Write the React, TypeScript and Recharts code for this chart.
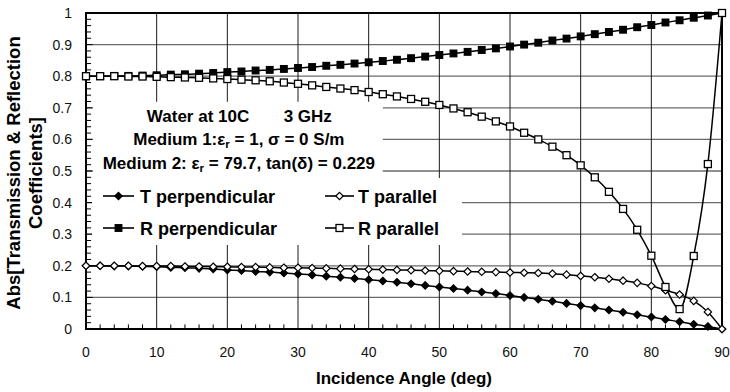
import React from 'react';
import {
  LineChart,
  Line,
  XAxis,
  YAxis,
  CartesianGrid,
  ReferenceArea,
  ReferenceLine,
  Legend,
} from 'recharts';

const FONT = "'Liberation Sans', Arial, Helvetica, sans-serif";

// Incidence angle (deg)
const angles = [
  0, 2, 4, 6, 8, 10, 12, 14, 16, 18, 20, 22, 24, 26, 28, 30, 32, 34, 36, 38, 40, 42, 44,
  46, 48, 50, 52, 54, 56, 58, 60, 62, 64, 66, 68, 70, 72, 74, 76, 78, 80, 82, 84, 86, 88, 90,
];

const tPerpendicular = [
  0.2, 0.2, 0.199, 0.199, 0.198, 0.197, 0.195, 0.194, 0.192, 0.19, 0.187, 0.185, 0.182, 0.18,
  0.177, 0.174, 0.171, 0.167, 0.164, 0.16, 0.156, 0.152, 0.148, 0.143, 0.138, 0.133, 0.128,
  0.123, 0.117, 0.112, 0.106, 0.1, 0.094, 0.088, 0.081, 0.074, 0.067, 0.06, 0.053, 0.045,
  0.038, 0.03, 0.023, 0.015, 0.008, 0.0,
];

const tParallel = [
  0.2, 0.2, 0.2, 0.2, 0.199, 0.199, 0.199, 0.198, 0.198, 0.197, 0.197, 0.196, 0.196, 0.195,
  0.194, 0.194, 0.193, 0.192, 0.191, 0.19, 0.189, 0.188, 0.187, 0.186, 0.185, 0.184, 0.183,
  0.182, 0.181, 0.18, 0.179, 0.178, 0.177, 0.175, 0.172, 0.168, 0.164, 0.159, 0.153, 0.146,
  0.136, 0.123, 0.109, 0.089, 0.054, 0.0,
];

const rPerpendicular = [
  0.8, 0.8, 0.801, 0.801, 0.802, 0.803, 0.805, 0.806, 0.808, 0.81, 0.813, 0.815, 0.818, 0.82,
  0.823, 0.826, 0.829, 0.833, 0.836, 0.84, 0.844, 0.848, 0.852, 0.857, 0.862, 0.867, 0.872,
  0.877, 0.883, 0.888, 0.894, 0.9, 0.906, 0.913, 0.919, 0.926, 0.933, 0.94, 0.947, 0.955,
  0.962, 0.97, 0.977, 0.985, 0.992, 1.0,
];

const rParallel = [
  0.8, 0.8, 0.8, 0.799, 0.799, 0.798, 0.797, 0.796, 0.795, 0.793, 0.791, 0.789, 0.787, 0.784,
  0.78, 0.776, 0.771, 0.766, 0.761, 0.756, 0.75, 0.743, 0.736, 0.728, 0.719, 0.709, 0.698,
  0.686, 0.672, 0.657, 0.641, 0.621, 0.6, 0.577, 0.55, 0.518, 0.48, 0.434, 0.38, 0.314, 0.232,
  0.133, 0.063, 0.231, 0.522, 1.0,
];

const seriesNames = ['T perpendicular', 'T parallel', 'R perpendicular', 'R parallel'];

const xMajorTicks = [0, 10, 20, 30, 40, 50, 60, 70, 80, 90];
const yMajorTicks = [0, 0.1, 0.2, 0.3, 0.4, 0.5, 0.6, 0.7, 0.8, 0.9, 1];
const xGridValues = [10, 20, 30, 40, 50, 60, 70, 80, 90];
const yGridValues = [0.1, 0.2, 0.3, 0.4, 0.5, 0.6, 0.7, 0.8, 0.9, 1];
const xMinorTicks = angles.filter((a) => a % 10 !== 0);
const yMinorTicks = Array.from({ length: 51 }, (_, i) => i)
  .filter((i) => i % 5 !== 0)
  .map((i) => Math.round(i * 2) / 100);

const data = angles.map((a, i) => ({
  angle: a,
  tPerp: tPerpendicular[i],
  tPar: tParallel[i],
  rPerp: rPerpendicular[i],
  rPar: rParallel[i],
}));

type Kind = 'diamondFilled' | 'diamondOpen' | 'squareFilled' | 'squareOpen';

const Marker = ({ cx, cy, kind }: { cx: number; cy: number; kind: Kind }) => {
  if (cx == null || cy == null || isNaN(cx) || isNaN(cy)) return null;
  if (kind === 'diamondFilled' || kind === 'diamondOpen') {
    const r = 3.7;
    return (
      <polygon
        points={`${cx},${cy - r} ${cx + r},${cy} ${cx},${cy + r} ${cx - r},${cy}`}
        fill={kind === 'diamondFilled' ? '#000' : '#fff'}
        stroke="#000"
        strokeWidth={1.2}
      />
    );
  }
  const s = kind === 'squareFilled' ? 6.6 : 7;
  return (
    <rect
      x={cx - s / 2}
      y={cy - s / 2}
      width={s}
      height={s}
      fill={kind === 'squareFilled' ? '#000' : '#fff'}
      stroke="#000"
      strokeWidth={1.3}
    />
  );
};

const kindByKey: Record<string, Kind> = {
  tPerp: 'diamondFilled',
  tPar: 'diamondOpen',
  rPerp: 'squareFilled',
  rPar: 'squareOpen',
};

const XTick = (props: any) => {
  const { x, y, payload } = props;
  return (
    <text x={x} y={y + 28} textAnchor="middle" fontSize={14} fontFamily={FONT} fill="#111">
      {payload.value}
    </text>
  );
};

const YTick = (props: any) => {
  const { x, y, payload } = props;
  const v = payload.value;
  const label = v === 0 ? '0' : v === 1 ? '1' : Number(v).toFixed(1);
  return (
    <text x={x - 14} y={y} dy="0.36em" textAnchor="end" fontSize={14} fontFamily={FONT} fill="#111">
      {label}
    </text>
  );
};

const XTitle = (props: any) => {
  const vb = props.viewBox || { x: 0, y: 0, width: 0 };
  return (
    <text
      x={vb.x + vb.width / 2}
      y={vb.y + 55}
      textAnchor="middle"
      fontSize={17}
      fontWeight="bold"
      fontFamily={FONT}
      fill="#000"
    >
      Incidence Angle (deg)
    </text>
  );
};

const YTitle = (props: any) => {
  const vb = props.viewBox || { x: 0, y: 0, height: 0 };
  const cy = vb.y + vb.height / 2 + 2;
  const x1 = vb.x + 19.5;
  const x2 = vb.x + 41.5;
  return (
    <g fontSize={18.5} fontWeight="bold" fontFamily={FONT} fill="#000">
      <text x={x1} y={cy} textAnchor="middle" transform={`rotate(-90, ${x1}, ${cy})`}>
        Abs[Transmission &amp; Reflection
      </text>
      <text x={x2} y={cy} textAnchor="middle" transform={`rotate(-90, ${x2}, ${cy})`}>
        Coefficients]
      </text>
    </g>
  );
};

const AnnotationLabel = (props: any) => {
  const vb = props.viewBox || { x: 0, y: 0 };
  const x0 = vb.x;
  const y0 = vb.y;
  const cx = x0 + 146.5;
  return (
    <g fontSize={17} fontWeight="bold" fontFamily={FONT} fill="#000">
      <text x={x0 + 54.5} y={y0 + 20}>Water at 10C</text>
      <text x={x0 + 239.5} y={y0 + 20} textAnchor="end">3 GHz</text>
      <text x={cx} y={y0 + 43.5} textAnchor="middle">
        Medium 1:ε<tspan dy={3} fontSize={11.5}>r</tspan>
        <tspan dy={-3}> = 1, σ = 0 S/m</tspan>
      </text>
      <text x={cx} y={y0 + 67.5} textAnchor="middle">
        Medium 2: ε<tspan dy={3} fontSize={11.5}>r</tspan>
        <tspan dy={-3}> = 79.7, tan(δ) = 0.229</tspan>
      </text>
    </g>
  );
};

// legend slot layout per series (position only)
const legendSlots: Record<string, { x1: number; x2: number; tx: number; y: number }> = {
  tPerp: { x1: 11, x2: 42, tx: 48, y: 18 },
  tPar: { x1: 233, x2: 262, tx: 266, y: 18 },
  rPerp: { x1: 11, x2: 42, tx: 48, y: 50 },
  rPar: { x1: 233, x2: 262, tx: 266, y: 50 },
};

const LegendContent = (props: any) => {
  const payload: any[] = props.payload || [];
  return (
    <svg width={370} height={67} style={{ display: 'block' }}>
      <rect x={0} y={0} width={370} height={67} fill="#fff" />
      {payload.map((entry) => {
        const key = String(entry.dataKey);
        const s = legendSlots[key];
        if (!s) return null;
        return (
          <g key={key}>
            <line x1={s.x1} x2={s.x2} y1={s.y} y2={s.y} stroke="#000" strokeWidth={1.6} />
            <Marker cx={(s.x1 + s.x2) / 2} cy={s.y} kind={kindByKey[key]} />
            <text x={s.tx} y={s.y + 6.5} fontSize={18} fontWeight="bold" fontFamily={FONT} fill="#000">
              {entry.value}
            </text>
          </g>
        );
      })}
    </svg>
  );
};

const makeDot = (kind: Kind) => (p: any) => (
  <Marker key={`${kind}-${p.index}`} cx={p.cx} cy={p.cy} kind={kind} />
);

export default function App() {
  return (
    <div style={{ position: 'absolute', left: 0, top: 0, width: 730, height: 392, background: '#fff' }}>
      <LineChart
        width={730}
        height={392}
        data={data}
        margin={{ top: 13, right: 8, bottom: 0, left: 0 }}
      >
        <CartesianGrid
          horizontal={true}
          vertical={false}
          horizontalValues={yGridValues}
          stroke="#6a6a6a"
          strokeWidth={1.3}
        />
        <CartesianGrid
          horizontal={false}
          vertical={true}
          verticalValues={xGridValues}
          stroke="#1a1a1a"
          strokeWidth={1}
        />
        <XAxis
          dataKey="angle"
          type="number"
          domain={[0, 90]}
          ticks={xMajorTicks}
          interval={0}
          tickLine={false}
          tickSize={0}
          tickMargin={0}
          height={63}
          axisLine={{ stroke: '#000', strokeWidth: 2 }}
          tick={<XTick />}
          label={<XTitle />}
        />
        <YAxis
          type="number"
          domain={[0, 1]}
          ticks={yMajorTicks}
          interval={0}
          tickLine={false}
          tickSize={0}
          tickMargin={0}
          width={86}
          axisLine={{ stroke: '#000', strokeWidth: 2 }}
          tick={<YTick />}
          label={<YTitle />}
        />
        <ReferenceArea
          x1={0.9}
          x2={42}
          y1={0.478}
          y2={0.719}
          fill="#fff"
          fillOpacity={1}
          stroke="none"
          label={<AnnotationLabel />}
        />
        {xMinorTicks.map((a) => (
          <ReferenceLine
            key={`xm-${a}`}
            segment={[
              { x: a, y: 0 },
              { x: a, y: 0.0145 },
            ]}
            stroke="#000"
            strokeWidth={1}
            ifOverflow="visible"
          />
        ))}
        {yMinorTicks.map((v) => (
          <ReferenceLine
            key={`ym-${v}`}
            segment={[
              { x: 0, y: v },
              { x: 0.72, y: v },
            ]}
            stroke="#000"
            strokeWidth={1}
            ifOverflow="visible"
          />
        ))}
        {yGridValues.map((v) => (
          <ReferenceLine
            key={`yM-${v}`}
            segment={[
              { x: 0, y: v },
              { x: 0.95, y: v },
            ]}
            stroke="#000"
            strokeWidth={1}
            ifOverflow="visible"
          />
        ))}
        <ReferenceArea x1={0} x2={90} y1={0} y2={1} fill="none" stroke="#000" strokeWidth={2} />
        <Line
          dataKey="tPerp"
          name={seriesNames[0]}
          type="monotone"
          stroke="#000"
          strokeWidth={1.5}
          dot={makeDot('diamondFilled')}
          isAnimationActive={false}
        />
        <Line
          dataKey="tPar"
          name={seriesNames[1]}
          type="monotone"
          stroke="#000"
          strokeWidth={1.5}
          dot={makeDot('diamondOpen')}
          isAnimationActive={false}
        />
        <Line
          dataKey="rPerp"
          name={seriesNames[2]}
          type="monotone"
          stroke="#000"
          strokeWidth={1.5}
          dot={makeDot('squareFilled')}
          isAnimationActive={false}
        />
        <Line
          dataKey="rPar"
          name={seriesNames[3]}
          type="monotone"
          stroke="#000"
          strokeWidth={1.5}
          dot={makeDot('squareOpen')}
          isAnimationActive={false}
        />
        <Legend
          layout="horizontal"
          verticalAlign="middle"
          align="center"
          content={<LegendContent />}
          wrapperStyle={{ left: 92, top: 178, width: 370, height: 67, margin: 0, padding: 0 }}
        />
      </LineChart>
    </div>
  );
}
